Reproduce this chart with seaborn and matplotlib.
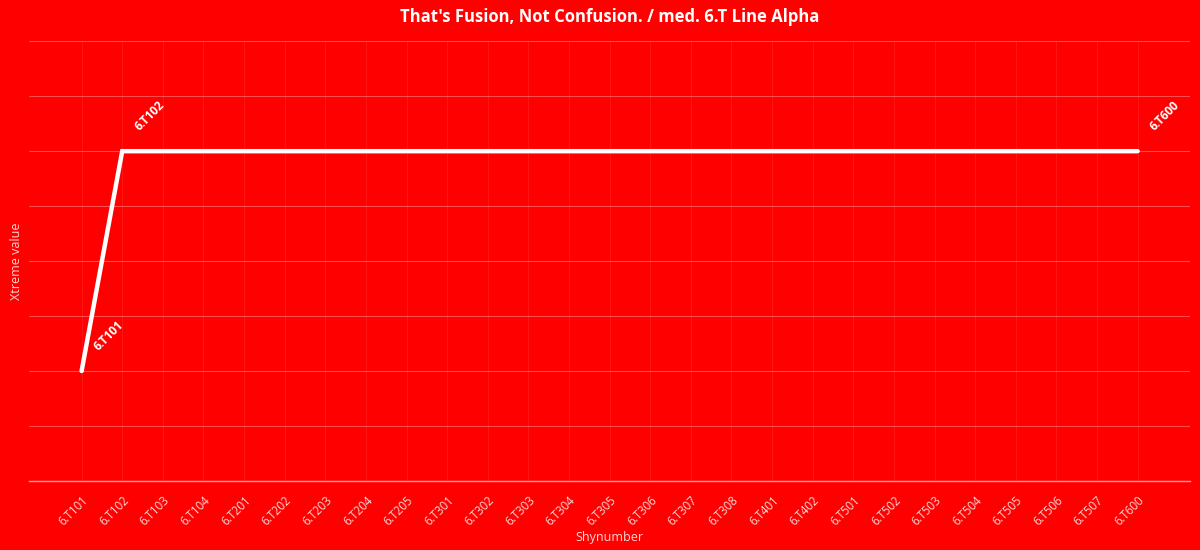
import matplotlib
matplotlib.use("Agg")
import matplotlib.pyplot as plt
import seaborn as sns
import pandas as pd

# categories shown on the x axis
shynumbers = ["6.T101", "6.T102", "6.T103", "6.T104", "6.T201", "6.T202", "6.T203",
              "6.T204", "6.T205", "6.T301", "6.T302", "6.T303", "6.T304", "6.T305",
              "6.T306", "6.T307", "6.T308", "6.T401", "6.T402", "6.T501", "6.T502",
              "6.T503", "6.T504", "6.T505", "6.T506", "6.T507", "6.T600"]

# only these have a value
point_names = ["6.T101", "6.T102", "6.T600"]
point_values = [2, 6, 6]

title = "That's Fusion, Not Confusion. / med. 6.T Line Alpha"

BG = "#ff0000"
sns.set_theme(style="white")
plt.rcParams["font.family"] = ["Open Sans", "DejaVu Sans"]

df = pd.DataFrame({"pos": [shynumbers.index(n) for n in point_names],
                   "value": point_values, "name": point_names})

fig = plt.figure(figsize=(12, 5.5), dpi=100, facecolor=BG)
ax = fig.add_axes([0.024, 0.1255, 0.968, 0.7995])
ax.set_facecolor(BG)

sns.lineplot(data=df, x="pos", y="value", ax=ax, color="white", linewidth=3.2,
             solid_capstyle="round", solid_joinstyle="miter", sort=False, zorder=3)

for _, r in df.iterrows():
    ax.annotate(r["name"], (r["pos"], r["value"]), xytext=(14, 13), textcoords="offset points",
                rotation=45, rotation_mode="anchor", ha="left", va="bottom",
                color="white", fontsize=8.5, fontweight="bold")

ax.set_xlim(-1.3, len(shynumbers) - 1 + 1.3)
ax.set_ylim(0, 8)
ax.set_xticks(range(len(shynumbers)))
ax.set_xticklabels(shynumbers, rotation=45, ha="right", rotation_mode="anchor",
                   color="#ffd6d6", fontsize=8.3)
ax.set_yticks(range(0, 9))
ax.set_yticklabels([])
ax.tick_params(axis="x", length=5, width=1, color="#ff9a9a", pad=4)
ax.tick_params(axis="y", length=0)

ax.grid(axis="y", color="white", alpha=0.3, linewidth=0.8)
ax.grid(axis="x", color="white", alpha=0.08, linewidth=0.8)
for s in ["top", "right", "left"]:
    ax.spines[s].set_visible(False)
ax.spines["bottom"].set_color("#ff9a9a")
ax.spines["bottom"].set_linewidth(1)

ax.set_xlabel("Shynumber", color="#ffd6d6", fontsize=9, labelpad=2)
ax.set_ylabel("Xtreme value", color="#ffd6d6", fontsize=9, labelpad=1)
ax.set_title(title, color="white", fontsize=12, fontweight="bold", pad=14)

fig.savefig("out.png", dpi=100, facecolor=BG)
